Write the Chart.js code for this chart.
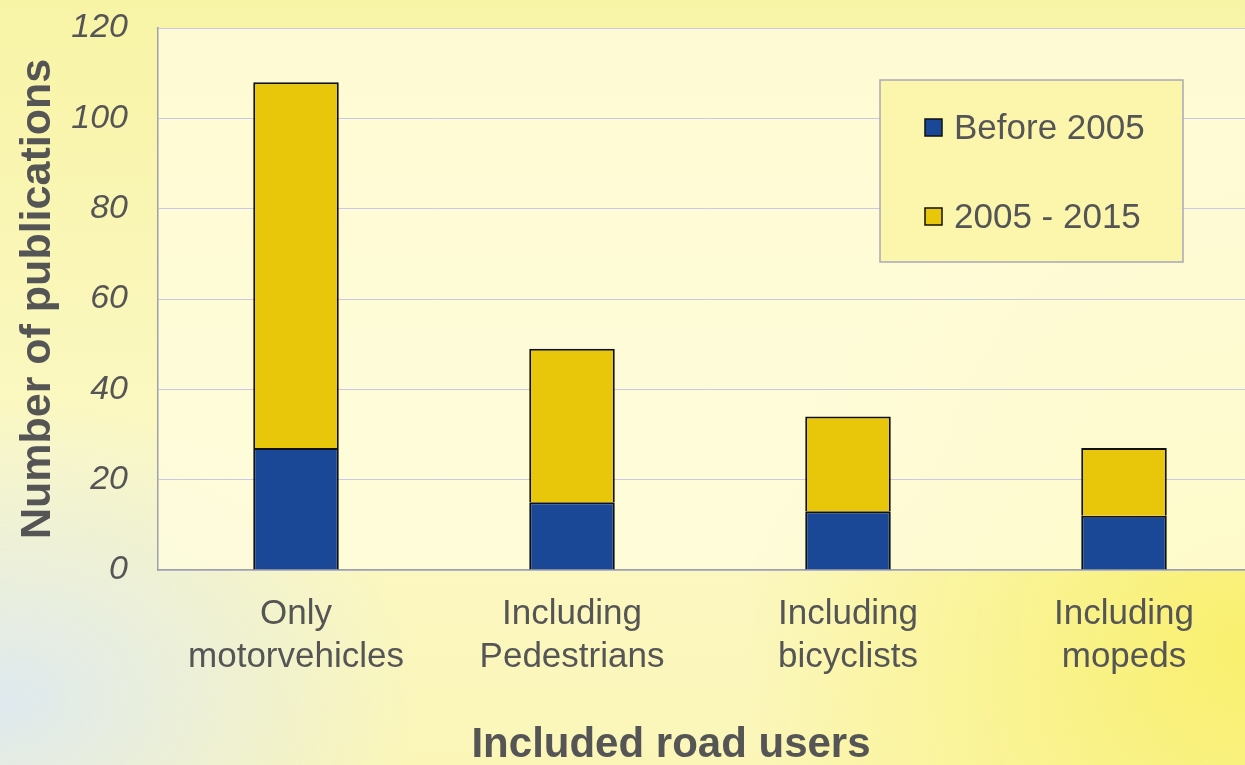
<!DOCTYPE html>
<html>
<head>
<meta charset="utf-8">
<script src="https://cdn.jsdelivr.net/npm/chart.js@4/dist/chart.umd.min.js"></script>
<style>
  html, body { margin: 0; padding: 0; overflow: hidden; }
  body {
    width: 1245px; height: 765px;
    background:
      radial-gradient(ellipse 420px 300px at 0px 700px, rgba(220,232,245,0.9), rgba(220,232,245,0) 100%),
      radial-gradient(ellipse 500px 500px at 1245px 650px, rgba(248,238,90,0.8), rgba(248,238,90,0) 100%),
      linear-gradient(180deg, #f8f4a6 0%, #fbf8c4 60%, #fbf6b8 100%);
  }
  #wrap { position: absolute; left: 0; top: 0; width: 1270px; height: 765px; }
</style>
</head>
<body>
<div id="wrap"><canvas id="road_chart"></canvas></div>
<script>
var categories = [['Only', 'motorvehicles'], ['Including', 'Pedestrians'], ['Including', 'bicyclists'], ['Including', 'mopeds']];
var before2005 = [27, 15, 13, 12];
var from2005to2015 = [81, 34, 21, 15];
var seriesNames = ['Before 2005', '2005 - 2015'];
var yTicks = [0, 20, 40, 60, 80, 100, 120];
var xTitle = 'Included road users';

var FONT = '"Liberation Sans", Arial, sans-serif';

// cream fill inside the plot, legend box and x title drawn on top
var plotBg = {
    id: 'plotBg',
    beforeDraw: function(chart){
        var a = chart.chartArea, c = chart.ctx;
        c.save();
        c.fillStyle = 'rgba(255,253,222,0.8)';
        c.fillRect(a.left, a.top, a.right - a.left, a.bottom - a.top);
        c.restore();
    },
    afterDraw: function(chart){
        var c = chart.ctx;
        c.save();
        c.fillStyle = 'rgba(251,246,170,0.95)';
        c.fillRect(880, 80, 303, 182);
        c.strokeStyle = '#a8a8b8';
        c.lineWidth = 1.5;
        c.strokeRect(880, 80, 303, 182);
        c.font = '35px ' + FONT;
        c.textBaseline = 'middle';
        chart.data.datasets.forEach(function(ds, i){
            var y = 128 + i * 89;
            c.fillStyle = ds.backgroundColor;
            c.fillRect(925, y - 9, 17, 17);
            c.strokeStyle = '#111';
            c.lineWidth = 1.5;
            c.strokeRect(925, y - 9, 17, 17);
            c.fillStyle = '#555';
            c.fillText(ds.label, 954, y + 1);
        });
        // x axis title (centred on the visible part of the slide)
        c.font = 'bold 42px ' + FONT;
        c.textAlign = 'center';
        c.fillStyle = '#555';
        c.fillText(xTitle, 671, 745);
        c.restore();
    }
};

function init(){
    var ctx = document.getElementById('road_chart').getContext('2d');
    new Chart(ctx, {
        type: 'bar',
        data: {
            labels: categories,
            datasets: [{
                label: seriesNames[0],
                data: before2005,
                backgroundColor: '#1b4797',
                borderColor: '#111',
                borderWidth: 2,
                barPercentage: 0.31,
                categoryPercentage: 1
            }, {
                label: seriesNames[1],
                data: from2005to2015,
                backgroundColor: '#e8c60a',
                borderColor: '#111',
                borderWidth: 2,
                barPercentage: 0.31,
                categoryPercentage: 1
            }]
        },
        options: {
            responsive: true,
            maintainAspectRatio: false,
            animation: false,
            layout: { padding: { top: 28, right: 8, left: 0, bottom: 0 } },
            plugins: {
                legend: { display: false },
                tooltip: { enabled: false }
            },
            scales: {
                x: {
                    stacked: true,
                    grid: { display: false, drawTicks: false },
                    border: { color: '#a0a0a8', width: 1.5 },
                    ticks: {
                        color: '#555',
                        font: { family: FONT, size: 35, lineHeight: 1.23 },
                        padding: 23,
                        maxRotation: 0
                    },
                    afterFit: function(s){ s.height = 195; s.paddingLeft = 0; s.paddingRight = 0; }
                },
                y: {
                    stacked: true,
                    min: 0,
                    max: 120,
                    afterBuildTicks: function(s){ s.ticks = yTicks.map(function(v){ return { value: v }; }); },
                    grid: { color: '#c9c8e6', lineWidth: 1, drawTicks: false },
                    border: { color: '#a0a0a8', width: 1.5 },
                    ticks: {
                        color: '#555',
                        font: { family: FONT, size: 34, style: 'italic' },
                        padding: 30
                    },
                    title: {
                        display: true,
                        text: 'Number of publications',
                        color: '#555',
                        font: { family: FONT, size: 43, weight: 'bold', lineHeight: 1.0 },
                        padding: { top: 17, bottom: 0 }
                    },
                    afterFit: function(s){ s.width = 158; s.paddingTop = 0; s.paddingBottom = 0; }
                }
            }
        },
        plugins: [plotBg]
    });
}

window.onload = init;
</script>
</body>
</html>
